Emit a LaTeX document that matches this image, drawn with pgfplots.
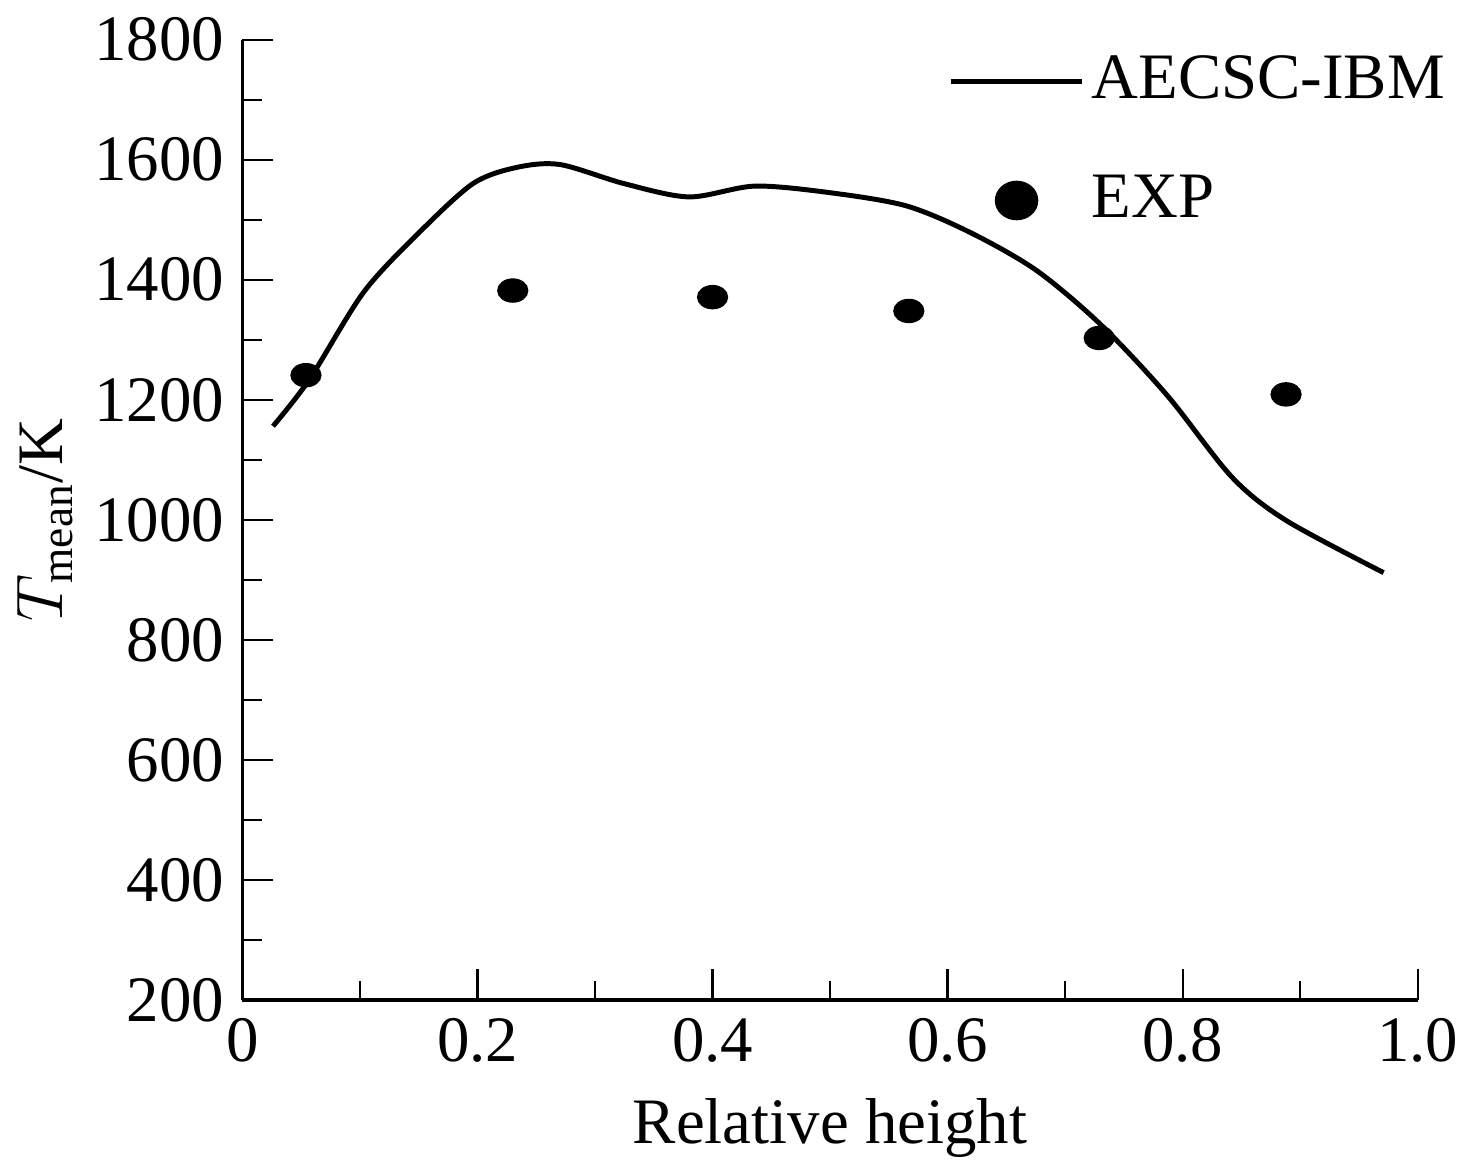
\documentclass[border=0pt]{standalone}
\usepackage{fontspec}
\setmainfont{Liberation Serif}
\usepackage{pgfplots}
\pgfplotsset{compat=1.18}
\begin{document}
\fontsize{14}{16}\selectfont
\begin{tikzpicture}
\begin{axis}[
  scale only axis, width=10.83cm, height=8.85cm,
  xmin=0, xmax=1, ymin=200, ymax=1800,
  axis x line*=bottom, axis y line*=left,
  axis line style={-, line width=0.8pt},
  xtick={0,0.2,0.4,0.6,0.8,1.0},
  xticklabels={0,0.2,0.4,0.6,0.8,1.0},
  ytick={200,400,...,1800},
  minor x tick num=1, minor y tick num=1,
  tick align=inside, major tick length=8pt, minor tick length=5pt,
  tick style={black, line width=0.6pt},
  /pgf/number format/assume math mode=true,
  yticklabel style={/pgf/number format/1000 sep={}},
  tick label style={font=\fontsize{17}{19}\selectfont},
  label style={font=\fontsize{17}{19}\selectfont},
  xlabel={Relative height},
  ylabel={$T_{\mathrm{mean}}$/K},
  ylabel style={yshift=-4pt},
  legend style={draw=none, fill=none, at={(1.04,1.0)}, anchor=north east, font=\fontsize{17}{19}\selectfont, row sep=14pt},
  legend cell align=left,
]
\addplot[black, line width=1.3pt, smooth, tension=0.5, legend image code/.code={\draw[black,line width=1.3pt] (-0.9cm,0)--(0.3cm,0);}] coordinates {
(0.026,1156)(0.057,1234)(0.103,1379)(0.15,1478)(0.196,1560)(0.233,1587)(0.27,1592)(0.325,1560)(0.38,1538)(0.436,1556)(0.5,1545)(0.565,1523)(0.62,1478)(0.676,1415)(0.731,1324)(0.787,1207)(0.842,1071)(0.888,999)(0.971,912)};
\addlegendentry{AECSC-IBM}
\addplot[only marks, mark=*, mark size=3pt, mark options={xscale=1.3}, black, legend image code/.code={\fill[black] (-0.3cm,0) ellipse (5.5pt and 5pt);}] coordinates {
(0.054,1241)(0.23,1382)(0.4,1371)(0.567,1348)(0.729,1303)(0.888,1209)};
\addlegendentry{EXP}
\end{axis}
\end{tikzpicture}
\end{document}
